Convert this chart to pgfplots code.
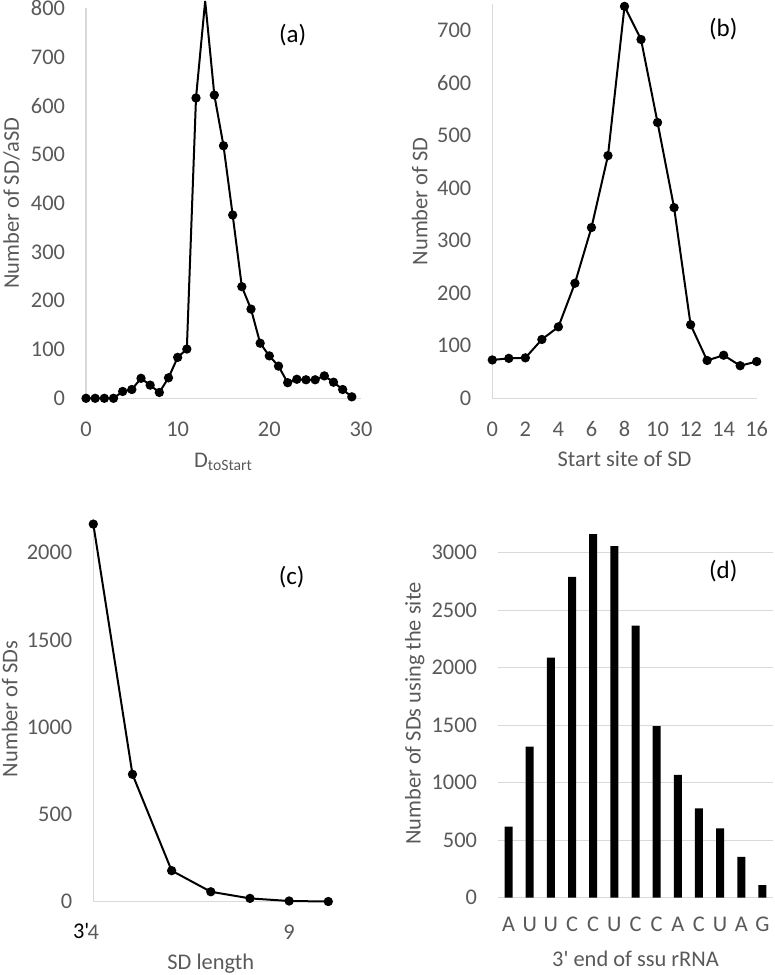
\documentclass[border=0pt]{standalone}
\usepackage{fontspec}
\setmainfont{Carlito}
\usepackage{pgfplots}
\pgfplotsset{compat=1.18}
\definecolor{tickgray}{HTML}{595959}
\definecolor{axisgray}{HTML}{D9D9D9}
\pgfplotsset{panel/.style={
  scale only axis,
  anchor=south west,
  axis x line*=bottom, axis y line*=left,
  axis line style={draw=axisgray, line width=0.6pt, -},
  major tick length=0pt,
  tick label style={text=tickgray, font=\fontsize{11.2}{13}\selectfont},
  label style={text=tickgray, font=\fontsize{11.2}{13}\selectfont},
  yticklabel style={anchor=east, inner sep=0pt, xshift=-10.3pt},
  xticklabel style={anchor=center, inner sep=0pt, yshift=-15.3pt},
  xlabel style={at={(axis description cs:0.5,0)}, anchor=base, yshift=-34.5pt},
  /pgf/number format/assume math mode=true,
  /pgf/number format/1000 sep={},
  scaled ticks=false,
  clip=false,
}}
\begin{document}
\begin{tikzpicture}
\useasboundingbox (0,0) rectangle (387.5pt,487.5pt);
% (a)
\begin{axis}[panel, at={(43pt,288.35pt)}, width=137.5pt, height=195pt,
  xmin=0, xmax=30, ymin=0, ymax=800, xtick={0,10,20,30}, ytick={0,100,...,800},
  xlabel={D\textsubscript{toStart}}, ylabel={Number of SD/aSD},
  ylabel style={at={(axis description cs:-0.244,0.5)}, anchor=base}]
\addplot[black, line width=1pt, mark=*, mark size=1.8pt,
  mark indices={1,2,3,4,5,6,7,8,9,10,11,12,13,15,16,17,18,19,20,21,22,23,24,25,26,27,28,29,30}]
  coordinates {(0,0)(1,0)(2,0)(3,0)(4,14)(5,18)(6,41)(7,27)(8,12)(9,42)(10,84)(11,101)
  (12,616)(13,815)(14,622)(15,518)(16,376)(17,229)(18,183)(19,113)(20,87)(21,66)
  (22,32)(23,39)(24,38)(25,38)(26,46)(27,33)(28,18)(29,3)};
\end{axis}
% (b)
\begin{axis}[panel, at={(246.15pt,288.35pt)}, width=132.2pt, height=197pt,
  xmin=0, xmax=16, ymin=0, ymax=750, xtick={0,2,...,16}, ytick={0,100,...,700},
  xlabel={Start site of SD}, ylabel={Number of SD},
  xlabel style={yshift=0.3pt},
  ylabel style={at={(axis description cs:-0.246,0.5)}, anchor=base}]
\addplot[black, line width=1pt, mark=*, mark size=1.8pt]
  coordinates {(0,73)(1,76)(2,77)(3,112)(4,136)(5,219)(6,325)(7,462)(8,746)(9,683)
  (10,525)(11,363)(12,140)(13,72)(14,82)(15,62)(16,70)};
\end{axis}
% (c)
\begin{axis}[panel, at={(46.65pt,36.65pt)}, width=117.5pt, height=190.2pt,
  xmin=4, xmax=10, ymin=0, ymax=2180, xtick={4,9}, ytick={0,500,...,2000},
  xlabel={SD length}, ylabel={Number of SDs},
  xlabel style={yshift=0.8pt},
  ylabel style={at={(axis description cs:-0.323,0.507)}, anchor=base}]
\addplot[black, line width=1pt, mark=*, mark size=1.8pt]
  coordinates {(4,2164)(5,730)(6,178)(7,57)(8,19)(9,4)(10,1)};
\end{axis}
\node[text=black, font=\fontsize{11.2}{13}\selectfont, inner sep=0pt] at (40.6pt,22.15pt) {3\textquotesingle};
% (d)
\begin{axis}[panel, at={(249pt,38.65pt)}, width=137.5pt, height=184pt,
  y axis line style={draw=none},
  xmin=-0.5, xmax=12.5, ymin=0, ymax=3200, ytick={0,500,...,3000},
  ymajorgrids, grid style={axisgray, line width=0.6pt},
  xtick={0,...,12}, xticklabels={A,U,U,C,C,U,C,C,A,C,U,A,G},
  xticklabel style={yshift=2pt},
  xlabel={3\textquotesingle{} end of ssu rRNA}, ylabel={Number of SDs using the site},
  ylabel style={at={(axis description cs:-0.281,0.5)}, anchor=base}]
\addplot[ybar, bar width=4pt, fill=black, draw=none]
  coordinates {(0,617)(1,1313)(2,2087)(3,2789)(4,3162)(5,3058)(6,2365)(7,1493)
  (8,1067)(9,777)(10,603)(11,354)(12,110)};
\end{axis}
\node[font=\fontsize{12.5}{14}\selectfont, inner sep=0pt] at (146.35pt,470pt) {(a)};
\node[font=\fontsize{12.5}{14}\selectfont, inner sep=0pt] at (361.65pt,472.85pt) {(b)};
\node[font=\fontsize{12.5}{14}\selectfont, inner sep=0pt] at (145.85pt,199.15pt) {(c)};
\node[font=\fontsize{12.5}{14}\selectfont, inner sep=0pt] at (361.65pt,202.15pt) {(d)};
\end{tikzpicture}
\end{document}
